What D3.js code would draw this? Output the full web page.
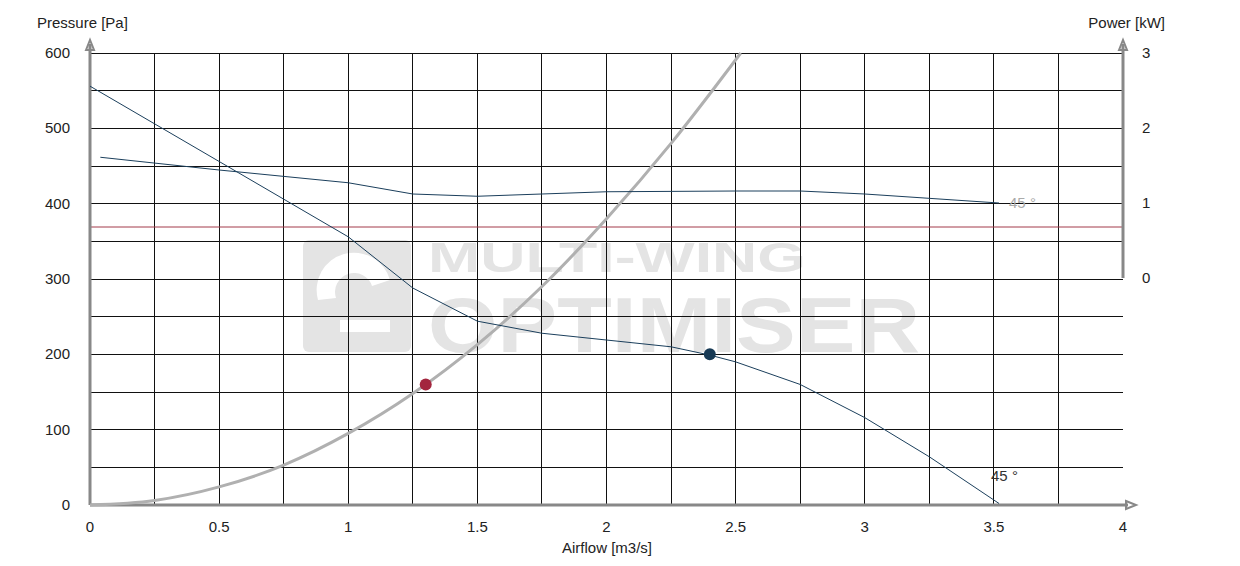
<!DOCTYPE html>
<html><head><meta charset="utf-8">
<script src="https://cdn.jsdelivr.net/npm/d3@7"></script>
<style>body{margin:0;background:#fff}svg{font-family:"Liberation Sans",Arial,sans-serif}</style>
</head><body><svg id="c" width="1240" height="566"></svg>
<script>
const xTicks = [0, 0.5, 1, 1.5, 2, 2.5, 3, 3.5, 4];
const yTicks = [0, 100, 200, 300, 400, 500, 600];
const powerTicks = [0, 1, 2, 3];
const pressureQ = [0, 0.25, 0.5, 0.75, 1, 1.25, 1.5, 1.75, 2, 2.25, 2.4, 2.5, 2.75, 3, 3.25, 3.52];
const pressureP = [556, 506, 456, 406, 356, 288, 244, 228, 219, 210, 199, 190, 160, 116, 64, 2];
const powerQ = [0.04, 0.5, 1, 1.25, 1.5, 2, 2.5, 2.75, 3, 3.52];
const powerKW = [1.61, 1.44, 1.27, 1.12, 1.09, 1.15, 1.16, 1.16, 1.12, 1.0];
const systemQ = [0, 0.25, 0.5, 0.75, 1, 1.25, 1.5, 1.75, 2, 2.25, 2.52];
const systemP = [0, 6, 24, 53, 95, 148, 213, 290, 380, 480, 600];
const powerLimit = 0.68;
const opSystem = [1.3, 160];
const opFan = [2.4, 200];

const svg = d3.select('#c');
const x = d3.scaleLinear().domain([0, 4]).range([90, 1123]);
const y = d3.scaleLinear().domain([0, 600]).range([505, 53]);
const yP = d3.scaleLinear().domain([0, 3]).range([278, 53]);

// watermark
const wm = svg.append('g').attr('fill', '#e4e4e4');
wm.append('rect').attr('x', 303).attr('y', 240).attr('width', 108).attr('height', 112).attr('rx', 6);
wm.append('path').attr('fill', '#fff').attr('d', 'M318,300 a36,36 0 0 1 72,-20 l-18,6 a18,18 0 0 0 -36,12 z M340,320 l50,0 l0,12 l-50,0 z');
wm.append('text').attr('x', 428).attr('y', 272).attr('font-size', 42).attr('font-weight', 'bold').attr('textLength', 378).attr('lengthAdjust', 'spacingAndGlyphs').text('MULTI-WING');
wm.append('text').attr('x', 428).attr('y', 352).attr('font-size', 78).attr('font-weight', 'bold').attr('textLength', 492).attr('lengthAdjust', 'spacingAndGlyphs').text('OPTIMISER');

// grid
const grid = svg.append('g').attr('stroke', '#111').attr('stroke-width', 1).attr('shape-rendering', 'crispEdges');
grid.selectAll('.v').data(d3.range(1, 16).map(i => i * 0.25)).join('line')
  .attr('x1', d => x(d)).attr('x2', d => x(d)).attr('y1', y(600)).attr('y2', y(0));
grid.selectAll('.h').data(d3.range(1, 13).map(i => i * 50)).join('line')
  .attr('x1', x(0)).attr('x2', x(4)).attr('y1', d => y(d)).attr('y2', d => y(d));

// power limit
svg.append('line').attr('x1', x(0)).attr('x2', x(4)).attr('y1', yP(powerLimit)).attr('y2', yP(powerLimit))
  .attr('stroke', '#a33a4a').attr('stroke-width', 1);

// axes
const ax = svg.append('g').attr('stroke', '#888').attr('stroke-width', 3).attr('fill', 'none');
ax.append('line').attr('x1', x(0)).attr('x2', x(0)).attr('y1', y(0)).attr('y2', 44);
ax.append('line').attr('x1', x(0)).attr('x2', 1128).attr('y1', y(0)).attr('y2', y(0));
ax.append('line').attr('x1', x(4)).attr('x2', x(4)).attr('y1', yP(0)).attr('y2', 44);
ax.append('path').attr('stroke-width', 2).attr('d', `M${x(0)-4},50 L${x(0)},40 L${x(0)+4},50 Z`);
ax.append('path').attr('stroke-width', 2).attr('d', `M${x(4)-4},50 L${x(4)},40 L${x(4)+4},50 Z`);
ax.append('path').attr('stroke-width', 2).attr('d', `M1126,${y(0)-4} L1136,${y(0)} L1126,${y(0)+4} Z`);

const t = svg.append('g').attr('font-size', 15).attr('fill', '#222');
t.selectAll('.xt').data(xTicks).join('text').attr('x', d => x(d)).attr('y', 532).attr('text-anchor', 'middle').text(d => d);
t.selectAll('.yt').data(yTicks).join('text').attr('x', 70).attr('y', d => y(d) + 5).attr('text-anchor', 'end').text(d => d);
t.selectAll('.pt').data(powerTicks).join('text').attr('x', 1142).attr('y', d => yP(d) + 5).text(d => d);
t.append('text').attr('x', 37).attr('y', 28).text('Pressure [Pa]');
t.append('text').attr('x', 1165).attr('y', 28).attr('text-anchor', 'end').text('Power [kW]');
t.append('text').attr('x', 607).attr('y', 553).attr('text-anchor', 'middle').text('Airflow [m3/s]');

// curves
const smooth = d3.line().curve(d3.curveMonotoneX);
const line = d3.line();
svg.append('path').attr('fill', 'none').attr('stroke', '#b0b0b0').attr('stroke-width', 3)
  .attr('d', smooth(systemQ.map((q, i) => [x(q), y(systemP[i])])));
svg.append('path').attr('fill', 'none').attr('stroke', '#1b3f5c').attr('stroke-width', 1)
  .attr('d', line(pressureQ.map((q, i) => [x(q), y(pressureP[i])])));
svg.append('path').attr('fill', 'none').attr('stroke', '#1b3f5c').attr('stroke-width', 1)
  .attr('d', line(powerQ.map((q, i) => [x(q), yP(powerKW[i])])));

svg.append('circle').attr('cx', x(opSystem[0])).attr('cy', y(opSystem[1])).attr('r', 6).attr('fill', '#a3263e');
svg.append('circle').attr('cx', x(opFan[0])).attr('cy', y(opFan[1])).attr('r', 6).attr('fill', '#173a55');

svg.append('text').attr('x', x(3.52) + 10).attr('y', yP(1) + 5).attr('font-size', 15).attr('fill', '#aaa').text('45 °');
svg.append('text').attr('x', x(3.52) - 8).attr('y', 481).attr('font-size', 15).attr('fill', '#333').text('45 °');
</script></body></html>
